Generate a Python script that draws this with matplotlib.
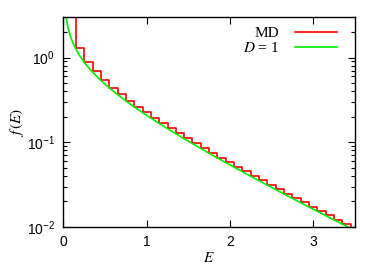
import numpy as np
import matplotlib
matplotlib.use("Agg")
import matplotlib.pyplot as plt

plt.rcParams['font.family'] = ['Liberation Sans', 'DejaVu Sans']
plt.rcParams['mathtext.fontset'] = 'stix'

# MD histogram: left edge of each bin and value (bin width 0.1)
E_md = [0.05, 0.15, 0.25, 0.35, 0.45, 0.55, 0.65, 0.75, 0.85, 0.95,
        1.05, 1.15, 1.25, 1.35, 1.45, 1.55, 1.65, 1.75, 1.85, 1.95,
        2.05, 2.15, 2.25, 2.35, 2.45, 2.55, 2.65, 2.75, 2.85, 2.95,
        3.05, 3.15, 3.25, 3.35]
f_md = [4.5, 1.29, 0.895, 0.685, 0.545, 0.442, 0.368, 0.310, 0.264, 0.226,
        0.194, 0.168, 0.146, 0.127, 0.111, 0.097, 0.085, 0.0748, 0.0658, 0.0580,
        0.0512, 0.0452, 0.0400, 0.0355, 0.0314, 0.0279, 0.0247, 0.0219, 0.0195, 0.0174,
        0.0155, 0.0137, 0.0122, 0.0109]
bin_width = 0.1

# D = 1 curve
E_th = [0.02, 0.03, 0.04, 0.05, 0.06, 0.08, 0.10, 0.12, 0.15, 0.20, 0.25, 0.30,
        0.35, 0.40, 0.50, 0.60, 0.70, 0.80, 0.90, 1.00, 1.20, 1.40, 1.60, 1.80,
        2.00, 2.25, 2.50, 2.75, 3.00, 3.25, 3.50]
f_th = [3.91, 3.16, 2.71, 2.40, 2.17, 1.84, 1.614, 1.444, 1.254, 1.033, 0.879, 0.763,
        0.672, 0.598, 0.484, 0.400, 0.3349, 0.2834, 0.2418, 0.2076, 0.1551, 0.1176, 0.0901, 0.0695,
        0.0540, 0.0396, 0.0293, 0.0217, 0.0162, 0.0121, 0.0091]

labels = ['MD', '$D$ = 1']
xticks = [0, 1, 2, 3]

fig = plt.figure(figsize=(3.82, 2.67), dpi=100)
ax = fig.add_axes([0.166, 0.150, 0.763, 0.786])

x_edges = list(E_md) + [E_md[-1] + bin_width, E_md[-1] + bin_width]
y_steps = list(f_md) + [f_md[-1], 1e-4]
ax.step(x_edges, y_steps, where='post', color='#ff0000', lw=1.2, label=labels[0])
ax.plot(E_th, f_th, color='#00ee00', lw=1.2, label=labels[1])

ax.set_yscale('log')
ax.set_xlim(0, 3.5)
ax.set_ylim(0.01, 3)
ax.set_xticks(xticks)
ax.set_xticklabels([str(t) for t in xticks])

ax.tick_params(which='both', direction='in', top=True, right=True, labelsize=10, width=0.8)
ax.tick_params(which='major', length=5, pad=6)
ax.tick_params(which='minor', length=3)
ax.tick_params(axis='x', which='minor', bottom=False, top=False)
for s in ax.spines.values():
    s.set_linewidth(1.0)

ax.set_xlabel('$E$', fontsize=11, labelpad=1)
ax.set_ylabel('$f\\,(E)$', fontsize=11, labelpad=1)

leg = ax.legend(loc='upper right', bbox_to_anchor=(0.959, 0.983), frameon=False,
                markerfirst=False, handlelength=2.75, handletextpad=1.0,
                labelspacing=0.03, borderaxespad=0.0,
                prop={'family': 'Liberation Serif', 'size': 11})

fig.savefig('out.png', dpi=100)
